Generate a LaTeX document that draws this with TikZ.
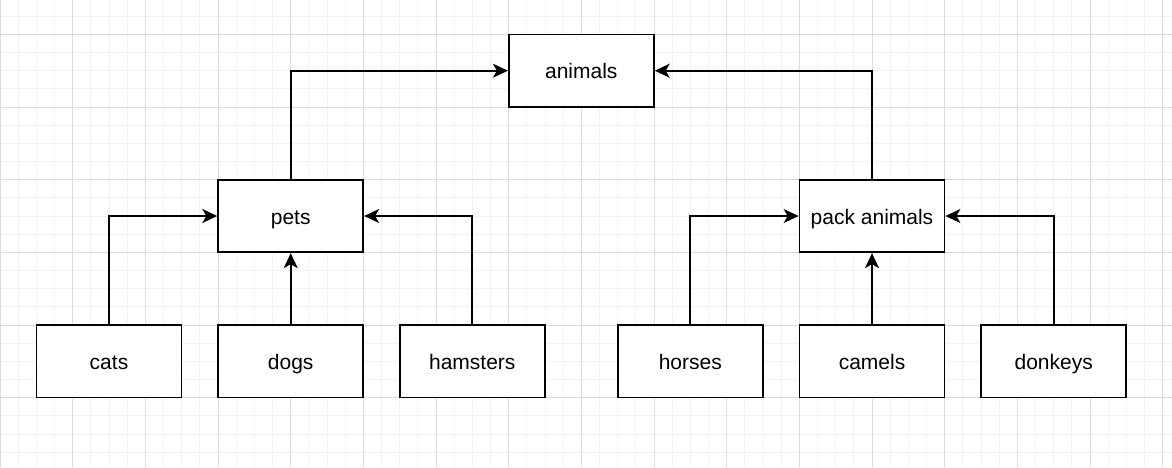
\documentclass[tikz,border=0pt]{standalone}
\usepackage{fontspec}
\setmainfont{Liberation Sans}
\usetikzlibrary{arrows.meta}
\definecolor{minorgrid}{HTML}{F2F2F2}
\definecolor{majorgrid}{HTML}{DCDCDC}
\begin{document}
\begin{tikzpicture}[x=1pt,y=-1pt,
  box/.style={draw=black, line width=1.8pt, fill=white, minimum width=145pt, minimum height=72.5pt, inner sep=0pt, text height=19pt, text depth=3pt, font=\fontsize{21}{25}\selectfont},
  conn/.style={line width=1.8pt, -{Stealth[length=15pt,width=14pt,inset=4pt]}}]
\useasboundingbox (0,0) rectangle (1172,467);
\fill[white] (0,0) rectangle (1172,467);
% grid
\foreach \i in {0,...,64} {
  \pgfmathsetmacro{\gx}{\i*18.1667}
  \draw[minorgrid, line width=0.8pt] (\gx,0) -- (\gx,467);
}
\foreach \j in {0,...,26} {
  \pgfmathsetmacro{\gy}{-2+\j*18.1667}
  \draw[minorgrid, line width=0.8pt] (0,\gy) -- (1172,\gy);
}
\foreach \i in {0,...,16} {
  \pgfmathsetmacro{\gx}{\i*72.6667}
  \draw[majorgrid, line width=1pt] (\gx,0) -- (\gx,467);
}
\foreach \j in {0,...,6} {
  \pgfmathsetmacro{\gy}{-38.333+\j*72.6667}
  \draw[majorgrid, line width=1pt] (0,\gy) -- (1172,\gy);
}
% nodes
\node[box] (animals) at (581.3,70.7) {animals};
\node[box] (pets) at (290.7,216) {pets};
\node[box] (pack) at (872,216) {pack animals};
\node[box] (cats) at (109,361.3) {cats};
\node[box] (dogs) at (290.7,361.3) {dogs};
\node[box] (hamsters) at (472.3,361.3) {hamsters};
\node[box] (horses) at (690.3,361.3) {horses};
\node[box] (camels) at (872,361.3) {camels};
\node[box] (donkeys) at (1053.7,361.3) {donkeys};
% connectors
\draw[conn] (pets.north) |- (animals.west);
\draw[conn] (pack.north) |- (animals.east);
\draw[conn] (cats.north) |- (pets.west);
\draw[conn] (dogs.north) -- (pets.south);
\draw[conn] (hamsters.north) |- (pets.east);
\draw[conn] (horses.north) |- (pack.west);
\draw[conn] (camels.north) -- (pack.south);
\draw[conn] (donkeys.north) |- (pack.east);
\end{tikzpicture}
\end{document}
